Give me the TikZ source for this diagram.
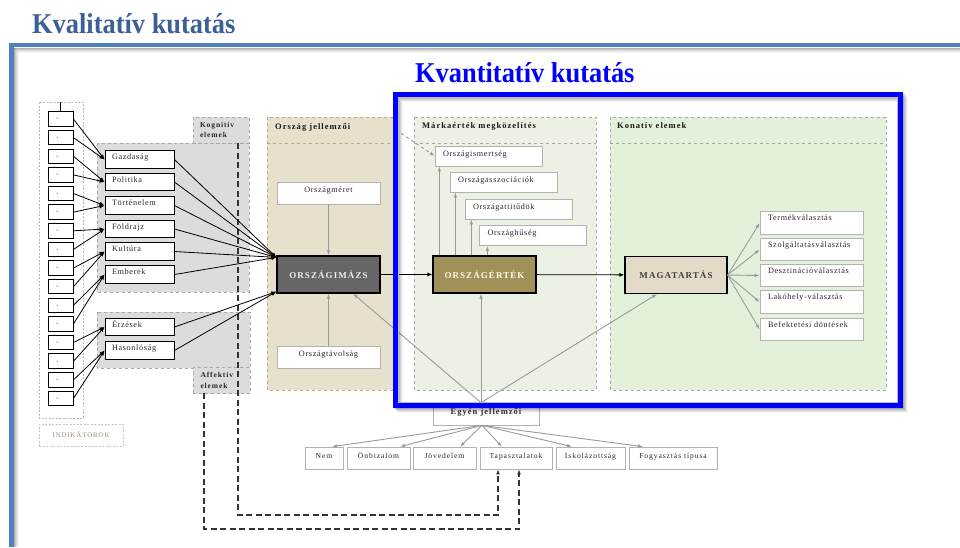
\documentclass[tikz,border=0pt]{standalone}
\usepackage{fontspec}
\usepackage{graphicx}
\setmainfont{Liberation Serif}
\newfontfamily\dg[LetterSpace=8]{Liberation Serif}
\newfontfamily\dgw[LetterSpace=12]{Liberation Serif}
\newfontfamily\dgx[LetterSpace=14]{Liberation Serif}
\usetikzlibrary{arrows.meta}
\definecolor{titleblue}{HTML}{3C5F95}
\definecolor{steelb}{HTML}{4F81BD}
\definecolor{pblue}{RGB}{0,0,255}
\definecolor{kogfill}{HTML}{DCDCDC}
\definecolor{ojfill}{HTML}{E6E0CD}
\definecolor{ojborder}{HTML}{B8AE7E}
\definecolor{mefill}{HTML}{EBF2E3}
\definecolor{kofill}{HTML}{E3F0DA}
\definecolor{rgborder}{HTML}{A8A8A8}
\definecolor{imzfill}{HTML}{666666}
\definecolor{ertfill}{HTML}{9F9158}
\definecolor{magfill}{HTML}{E3DAC8}
\definecolor{txt}{HTML}{2E2233}
\definecolor{gline}{HTML}{9A9A9A}
\definecolor{indc}{HTML}{A09080}
\tikzset{
  indbox/.style={draw=black, line width=0.9pt, fill=white, minimum width=25pt, minimum height=14.5pt, inner sep=0pt, font=\fontsize{3.5}{4}\selectfont, text=black!70},
  facbox/.style={draw=black, line width=0.9pt, fill=white, text width=55pt, inner xsep=7pt, inner ysep=0pt, text height=9pt, text depth=8.5pt, align=left, font=\dg\fontsize{8.2}{9}\selectfont, text=txt},
  lblbox/.style={draw=rgborder, dashed, fill=kogfill, minimum width=56pt, minimum height=26pt, text width=42pt, inner xsep=7pt, inner ysep=0pt, align=left, font=\dgw\bfseries\fontsize{7.5}{10.5}\selectfont, text=black!85},
  regionhead/.style={inner sep=0pt, anchor=west, font=\dgw\bfseries\fontsize{8.5}{10}\selectfont, text=black!90},
  ojbox/.style={draw=gray!60, line width=0.7pt, fill=white, minimum width=103pt, inner sep=0pt, text height=10pt, text depth=12pt, font=\dg\fontsize{8.2}{9}\selectfont, text=txt},
  mbox/.style={draw=gray!60, line width=0.7pt, fill=white, text width=91pt, inner xsep=8pt, inner ysep=0pt, text height=10pt, text depth=10pt, align=left, font=\dg\fontsize{8.2}{9}\selectfont, text=txt},
  rbox/.style={draw=gray!60, line width=0.7pt, fill=white, text width=87pt, inner xsep=8pt, inner ysep=0pt, text height=9pt, text depth=13.5pt, align=left, font=\dg\fontsize{8.2}{9}\selectfont, text=txt},
  bbox/.style={draw=gray!60, line width=0.7pt, fill=white, inner xsep=0pt, inner ysep=0pt, text height=11pt, text depth=11pt, font=\dgw\fontsize{7.6}{9}\selectfont, text=txt},
  bigbox/.style={draw=black, line width=1.2pt, minimum width=103pt, minimum height=37pt, inner sep=0pt},
  blk/.style={draw=black, line width=0.8pt, -{Latex[length=5pt,width=4pt]}},
  gar/.style={draw=gline, line width=0.9pt, -{Latex[length=5pt,width=3.5pt]}},
  fb/.style={draw=black!80, dash pattern=on 6pt off 3.5pt, line width=1.1pt, -{Latex[length=5pt,width=4pt]}}
}
\begin{document}
\begin{tikzpicture}[x=1pt,y=-1pt]
\useasboundingbox (0,0) rectangle (960,547);
\fill[white] (0,0) rectangle (960,547);

% titles and outer frame
\node[anchor=base west, inner sep=0pt, text=titleblue, font=\bfseries\fontsize{28.7}{30}\selectfont] (t1) at (32,33) {\scalebox{0.92}[1]{Kvalitatív kutatás}};
\foreach \i/\o in {0/0.30,1/0.22,2/0.14,3/0.08,4/0.04}{
  \draw[black, opacity=\o, line width=1pt] ({14+\i},{48+\i}) -- (960,{48+\i});
  \draw[black, opacity=\o, line width=1pt] ({14.5+\i},{48+\i}) -- ({14.5+\i},547);
}
\draw[steelb, line width=4.5pt] (11.5,547) -- (11.5,45) -- (960,45);

% indicators frame
\draw[gray!55, dash pattern=on 2pt off 1.5pt, line width=0.6pt] (39,102) rectangle (83,418);
\node[draw=gray!45, dash pattern=on 2pt off 1.5pt, line width=0.6pt, minimum width=84pt, minimum height=22pt, inner sep=0pt, text=indc, font=\dgw\fontsize{7}{8}\selectfont] (indlbl) at (81,435) {INDIKÁTOROK};

% Kognitiv / Affektiv regions
\path[fill=kogfill, draw=rgborder, dashed, line width=0.7pt] (97,143) rectangle (249,292);
\node[lblbox] (koglbl) at (221,130) {Kognitív\\elemek};
\path[fill=kogfill, draw=rgborder, dashed, line width=0.7pt] (97,312) rectangle (250,368);
\node[lblbox, minimum width=57pt] (afflbl) at (221.5,380.5) {Affektív\\elemek};

% Orszag jellemzoi region
\path[fill=ojfill, draw=ojborder, dashed, line width=0.7pt] (267,117) rectangle (396,390);
\draw[ojborder, dashed, line width=0.7pt] (267,143) -- (396,143);
\node[inner sep=0pt, minimum width=129pt, minimum height=26pt] (ojh) at (331.5,130) {};
\node[regionhead] (ojt) at (275,127) {Ország jellemzői};

% Markaertek region
\path[fill=mefill, draw=rgborder, dashed, line width=0.7pt] (414,117) rectangle (596,390);
\draw[rgborder, dashed, line width=0.7pt] (414,143) -- (596,143);
\node[regionhead] (met) at (422,126) {Márkaérték megközelítés};

% Konativ region
\path[fill=kofill, draw=rgborder, dashed, line width=0.7pt] (610,117) rectangle (886,390);
\draw[rgborder, dashed, line width=0.7pt] (610,143) -- (886,143);
\node[regionhead] (kot) at (617,126) {Konatív elemek};

% indicator boxes
\foreach \i in {1,...,16}{
  \node[indbox] (in\i) at (60.5,{119+(\i-1)*18.63}) {\hspace*{-6pt}a};
}
\draw[black, line width=0.9pt] (in1.north) -- ++(0,-9);

% factor boxes
\node[facbox] (gaz) at (139.5,159.5) {Gazdaság};
\node[facbox] (pol) at (139.5,182) {Politika};
\node[facbox] (tor) at (139.5,205.5) {Történelem};
\node[facbox] (fol) at (139.5,229) {Földrajz};
\node[facbox] (kul) at (139.5,251.5) {Kultúra};
\node[facbox] (emb) at (139.5,274.5) {Emberek};
\node[facbox] (erz) at (139.5,327) {Érzések};
\node[facbox] (has) at (139.5,350.5) {Hasonlóság};

% big boxes
\node[bigbox, fill=imzfill, text=white!93!black, font=\dgw\bfseries\fontsize{9}{10}\selectfont] (imz) at (328.5,274.5) {ORSZÁGIMÁZS};
\node[bigbox, fill=ertfill, text=white!92!yellow, font=\dgw\bfseries\fontsize{9}{10}\selectfont] (ert) at (484.5,274.5) {ORSZÁGÉRTÉK};
\node[bigbox, minimum width=102pt, fill=magfill, text=black!75, font=\dgw\bfseries\fontsize{9}{10}\selectfont] (mag) at (676,275) {MAGATARTÁS};

% orszag boxes
\node[ojbox] (om) at (328.5,193) {Országméret};
\node[ojbox] (ot) at (328.5,357) {Országtávolság};

% markaertek boxes
\node[mbox] (ism) at (488.5,156) {Országismertség};
\node[mbox] (asz) at (503.5,182) {Országasszociációk};
\node[mbox] (att) at (518.5,209) {Országattitűdök};
\node[mbox] (hus) at (533,235.5) {Országhűség};

% konativ boxes
\node[rbox] (ter) at (811.5,223) {Termékválasztás};
\node[rbox] (szo) at (811.5,249.5) {Szolgáltatásválasztás};
\node[rbox] (des) at (811.5,275.5) {Desztinációválasztás};
\node[rbox] (lak) at (811.5,302) {Lakóhely-választás};
\node[rbox] (bef) at (811.5,329.5) {Befektetési döntések};

% egyen jellemzoi
\node[draw=gray!60, line width=0.7pt, fill=white, minimum width=106pt, minimum height=22pt, inner sep=0pt, text height=11pt, text depth=11pt, font=\dgw\bfseries\fontsize{8.5}{10}\selectfont, text=black!80] (eg) at (486,414) {Egyén jellemzői};

% bottom boxes
\node[bbox, minimum width=38pt] (nem) at (324,458) {Nem};
\node[bbox, minimum width=63pt] (onb) at (378.5,458) {Önbizalom};
\node[bbox, minimum width=63pt] (jov) at (444.5,458) {Jövedelem};
\node[bbox, minimum width=72pt] (tap) at (516,458) {Tapasztalatok};
\node[bbox, minimum width=69pt] (isk) at (590.5,458) {Iskolázottság};
\node[bbox, minimum width=88pt] (fog) at (673,458) {Fogyasztás típusa};

% dashed feedback lines
\coordinate (d1s) at (238,143);
\coordinate (d1c) at (238,515);
\coordinate (d1e) at (498,515);
\coordinate (d2s) at (204,393);
\coordinate (d2c) at (204,529);
\coordinate (d2e) at (519,529);
\draw[fb] (d1s) -- (d1c) -- (d1e) -- (d1e |- tap.south);
\draw[fb] (d2s) -- (d2c) -- (d2e) -- (d2e |- tap.south);

% indicator -> factor
\foreach \a/\b in {1/gaz,2/gaz,3/pol,4/pol,5/tor,6/tor,7/fol,8/fol,9/kul,10/kul,11/emb,12/emb,13/erz,14/erz,15/has,16/has}{
  \draw[blk] (in\a.east) -- (\b.west);
}

% factor -> orszagimazs
\coordinate (imzA) at ([yshift=-2pt]imz.north west);
\coordinate (imzB) at ([yshift=2pt]imz.south west);
\foreach \b in {gaz,pol,tor,fol,kul,emb}{
  \draw[blk] (\b.east) -- (imzA);
}
\foreach \b in {erz,has}{
  \draw[blk] (\b.east) -- (imzB);
}

% main chain
\draw[blk] (imz) -- (ert);
\draw[blk] (ert) -- (mag);

% orszag jellemzoi arrows
\draw[gar] (om.south) -- (imz.north);
\draw[gar] (ot.north) -- (imz.south);
\draw[gar, dashed] (ojh.east) -- (ism.west);

% ertek -> markaertek boxes
\foreach \dx/\b in {7/ism,23/asz,39/att,55/hus}{
  \draw[gar] ([xshift=\dx pt]ert.north west) -- ([xshift=\dx pt]ert.north west |- \b.south);
}

% magatartas -> konativ boxes
\foreach \b in {ter,szo,des,lak,bef}{
  \draw[gar] (mag.east) -- (\b.west);
}

% egyen jellemzoi up
\coordinate (egt) at ([xshift=-5pt]eg.north);
\draw[gar] (egt) -- ([xshift=24.5pt]imz.south);
\draw[gar] (egt) -- ([xshift=-3.5pt]ert.south);
\draw[gar] (egt) -- ([xshift=-19pt]mag.south);

% egyen jellemzoi down
\coordinate (egb) at ([xshift=-4pt]eg.south);
\draw[gar] (egb) -- ([xshift=8pt]nem.north);
\draw[gar] (egb) -- ([xshift=21.5pt]onb.north);
\draw[gar] (egb) -- ([xshift=15.5pt]jov.north);
\draw[gar] (egb) -- ([xshift=-14pt]tap.north);
\draw[gar] (egb) -- ([xshift=-18.5pt]isk.north);
\draw[gar] (egb) -- ([xshift=-30pt]fog.north);

% Kvantitativ frame
\node[anchor=base west, inner sep=0pt, text=pblue, font=\bfseries\fontsize{28.7}{30}\selectfont] (t2) at (415,82) {\scalebox{0.92}[1]{Kvantitatív kutatás}};
\foreach \s/\o in {5/0.04,4/0.06,3/0.08,2/0.10,1/0.12}{
  \draw[black, opacity=\o, line width=5pt] ({395.5+\s},{94.5+\s}) rectangle ({900+\s},{405+\s});
}
\draw[gray!50, line width=0.6pt] (398.5,97.5) rectangle (897,402);
\draw[pblue, line width=5pt] (395.5,94.5) rectangle (900,405);
\end{tikzpicture}
\end{document}
